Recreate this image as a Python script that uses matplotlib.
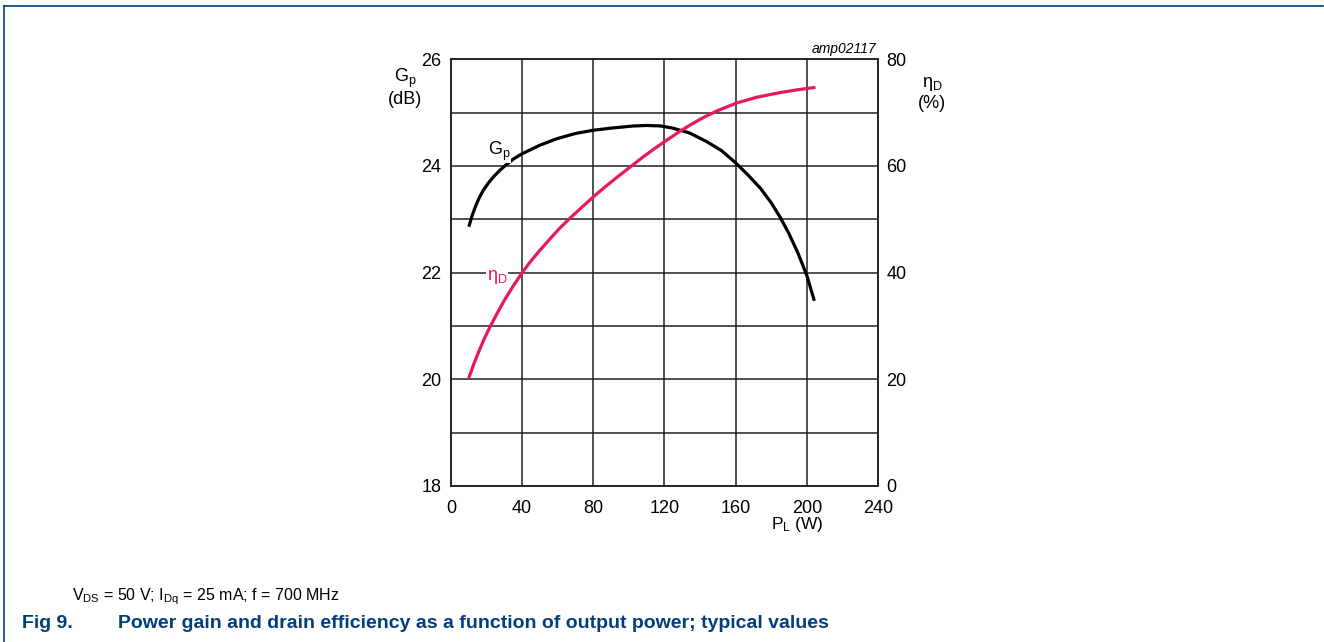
import numpy as np
import matplotlib.pyplot as plt
from matplotlib.lines import Line2D

plt.rcParams['font.family'] = ['Liberation Sans', 'DejaVu Sans']
plt.rcParams['mathtext.fontset'] = 'custom'
plt.rcParams['mathtext.rm'] = 'Liberation Sans'
plt.rcParams['mathtext.it'] = 'Liberation Sans:italic'

# power gain curve
pl_gain = [10.3, 12, 14, 16, 18.1, 21, 24, 27.5, 31.3, 35.5, 40, 50, 59.4, 70, 80, 90, 102.4, 110, 118,
           124.7, 134, 143.6, 152, 160, 167, 174, 180, 185, 190, 195, 200, 204]
gain_db = [22.89, 23.08, 23.26, 23.41, 23.54, 23.68, 23.80, 23.92, 24.03, 24.14, 24.23, 24.39, 24.51, 24.61,
           24.67, 24.71, 24.75, 24.76, 24.75, 24.71, 24.62, 24.46, 24.29, 24.06, 23.83, 23.58, 23.31, 23.04,
           22.73, 22.37, 21.95, 21.50]

# drain efficiency curve
pl_eff = [10.3, 13, 16, 19, 21.9, 26, 30, 35, 40, 45, 50, 55.6, 61, 66.9, 73, 80, 86, 93, 101.5, 108,
          115, 122, 128.7, 135, 142, 150, 160.5, 172, 184.8, 195, 204]
eff_pct = [20.5, 23.0, 25.5, 27.8, 29.8, 32.4, 34.8, 37.5, 40.0, 42.2, 44.2, 46.3, 48.3, 50.2, 52.1, 54.2,
           55.9, 57.8, 60.0, 61.7, 63.4, 65.0, 66.5, 67.8, 69.1, 70.4, 71.8, 72.9, 73.75, 74.3, 74.7]

x_ticks = [0, 40, 80, 120, 160, 200, 240]
left_ticks = [18, 20, 22, 24, 26]
right_ticks = [0, 20, 40, 60, 80]

navy = '#003e7e'
red = '#e8185c'

fig = plt.figure(figsize=(13.24, 6.42), dpi=100)
ax = fig.add_axes([0.3406, 0.2430, 0.3225, 0.6646])
ax2 = ax.twinx()

ax.set_xlim(0, 240)
ax.set_ylim(18, 26)
ax2.set_ylim(0, 80)

ax.set_xticks(x_ticks)
ax.set_yticks(left_ticks)
ax.set_yticks(np.arange(18, 26.1, 1), minor=True)
ax2.set_yticks(right_ticks)
ax.grid(True, which='both', color='#222222', linewidth=1.1)
ax.set_axisbelow(True)

for a in (ax, ax2):
    a.tick_params(which='both', length=0, labelsize=13)
    for s in a.spines.values():
        s.set_linewidth(1.1)
        s.set_color('#222222')
ax.tick_params(axis='y', pad=7)
ax.tick_params(axis='x', pad=10)
ax2.tick_params(axis='y', pad=6)

ax.plot(pl_gain, gain_db, color='black', linewidth=2.3, solid_joinstyle='round', zorder=3)
ax2.plot(pl_eff, eff_pct, color=red, linewidth=2.3, solid_joinstyle='round', zorder=3)

# curve labels
ax.text(21, 24.28, r'$\mathregular{G_p}$', fontsize=13, ha='left', va='center',
        bbox=dict(facecolor='white', edgecolor='none', pad=0.3))
ax.text(20, 21.92, r'$\mathregular{\eta_D}$', fontsize=13, color=red, ha='left', va='center',
        bbox=dict(facecolor='white', edgecolor='none', pad=0.3))

# axis labels
fig.text(405 / 1324, 1 - 78 / 642, r'$\mathregular{G_p}$', fontsize=13, ha='center', va='center')
fig.text(405 / 1324, 1 - 100 / 642, '(dB)', fontsize=13, ha='center', va='center')
fig.text(932 / 1324, 1 - 84 / 642, r'$\mathregular{\eta_D}$', fontsize=13, ha='center', va='center')
fig.text(932 / 1324, 1 - 104 / 642, '(%)', fontsize=13, ha='center', va='center')
fig.text(797 / 1324, 1 - 525 / 642, r'$\mathregular{P_L}$ (W)', fontsize=12.5, ha='center', va='center')
fig.text(876 / 1324, 1 - 49 / 642, 'amp02117', fontsize=10, style='italic', ha='right', va='center')

# caption
fig.text(72 / 1324, 1 - 597 / 642, r'$\mathregular{V_{DS}}$ = 50 V; $\mathregular{I_{Dq}}$ = 25 mA; f = 700 MHz',
         fontsize=11.5, ha='left', va='center')
fig.text(22 / 1324, 1 - 623 / 642, 'Fig 9.', fontsize=14, fontweight='bold', color=navy, ha='left', va='center')
fig.text(118 / 1324, 1 - 623 / 642, 'Power gain and drain efficiency as a function of output power; typical values',
         fontsize=14, fontweight='bold', color=navy, ha='left', va='center')

# page frame (top and left edges)
fig.add_artist(Line2D([4 / 1324, 1323 / 1324], [1 - 6 / 642, 1 - 6 / 642], color=navy, linewidth=1.2))
fig.add_artist(Line2D([4 / 1324, 4 / 1324], [1 - 6 / 642, 0], color=navy, linewidth=1.2))

fig.savefig('out.png', dpi=100)
